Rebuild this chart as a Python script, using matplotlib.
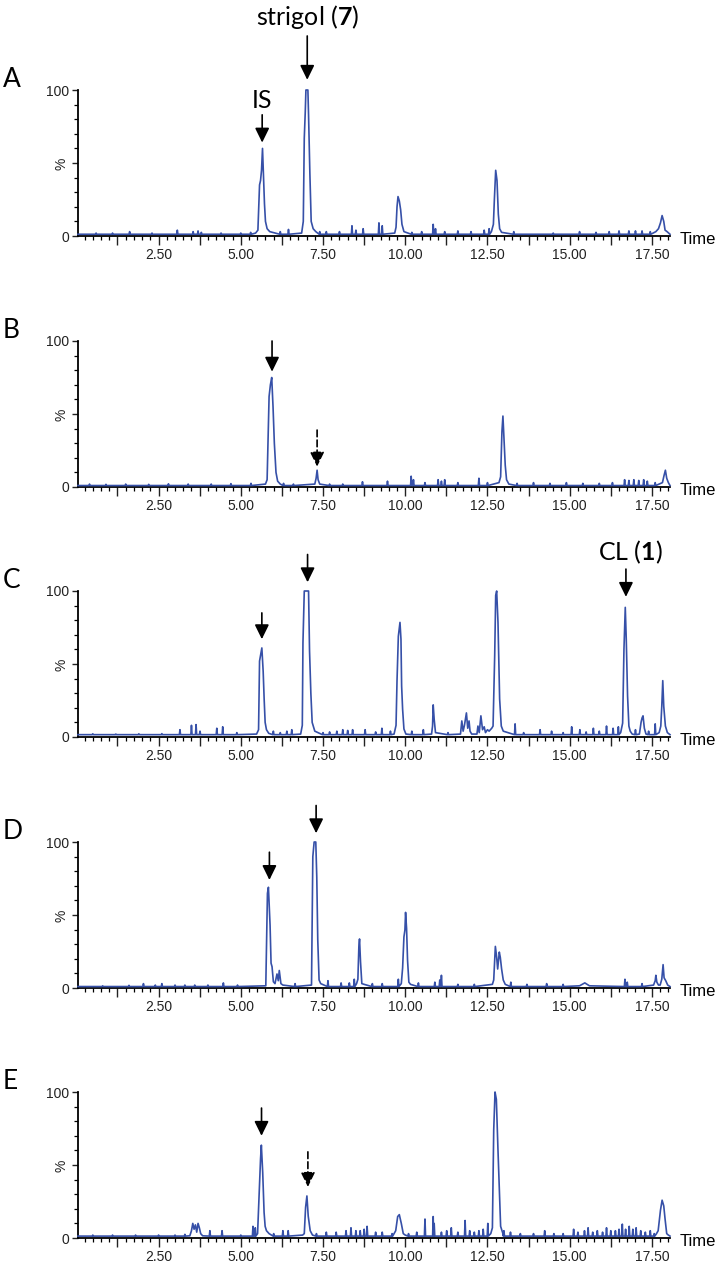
import matplotlib
matplotlib.use('Agg')
import matplotlib.pyplot as plt
import numpy as np
from matplotlib.ticker import MultipleLocator

plt.rcParams['font.family'] = ['Liberation Sans', 'DejaVu Sans']
plt.rcParams['mathtext.fontset'] = 'custom'
plt.rcParams['mathtext.rm'] = 'Lato'
plt.rcParams['mathtext.bf'] = 'Lato:bold'

BLUE = '#3650a8'
T_MIN, T_MAX = 0.05, 18.05

# ---- panel A ----
A_base = 1.2
A_spike_t = [0.6, 1.1, 1.62, 2.3, 3.07, 3.55, 3.7, 3.8, 4.4, 5.0, 5.3, 6.2, 6.45, 7.4, 7.6, 8.0, 8.38, 8.5, 8.72,
             9.2, 9.3, 10.2, 10.5, 10.85, 10.92, 11.2, 11.6, 12.0, 12.4, 12.55, 13.3, 14.5, 15.3, 15.8, 16.2, 16.5,
             16.8, 17.0, 17.2, 17.45]
A_spike_h = [2, 2, 3, 2, 4, 3, 3.5, 2.5, 2, 2, 2.5, 3, 4.5, 3, 3, 3, 7, 4, 5,
             9, 7, 2.5, 3, 8, 5, 3, 3.5, 3, 4, 5, 3, 2, 3, 2.5, 3, 3.5,
             3.5, 3.5, 3.5, 3]
A_peak_t = [[5.45, 5.52, 5.57, 5.6, 5.63, 5.66, 5.69, 5.72, 5.75, 5.8, 5.88],
            [6.85, 6.9, 6.93, 6.96, 6.98, 7.04, 7.06, 7.1, 7.14, 7.2, 7.28],
            [9.68, 9.72, 9.75, 9.78, 9.82, 9.86, 9.9, 9.96],
            [12.62, 12.68, 12.71, 12.75, 12.79, 12.83, 12.87, 12.93],
            [17.62, 17.7, 17.76, 17.81, 17.86, 17.9, 17.96]]
A_peak_y = [[2, 4, 35, 38, 45, 60, 40, 22, 10, 5, 3],
            [2, 10, 67, 85, 100, 100, 83, 43, 10, 5, 3],
            [2, 6, 20, 27, 24, 18, 8, 3],
            [3, 8, 25, 45, 38, 15, 5, 2.5],
            [3, 5, 9, 14, 10, 4, 3]]

# ---- panel B ----
B_base = 1.0
B_spike_t = [0.4, 0.9, 1.5, 2.2, 2.8, 3.4, 4.1, 4.7, 5.31, 6.3, 6.6, 7.7, 8.1, 8.7, 9.46, 10.18, 10.25, 10.6, 11.0,
             11.1, 11.2, 11.6, 12.24, 12.5, 13.4, 13.9, 14.4, 14.9, 15.4, 15.9, 16.3, 16.67, 16.8, 16.95, 17.1,
             17.25, 17.36, 17.6]
B_spike_h = [2, 1.8, 2, 1.8, 2.2, 2, 2, 2.3, 2.5, 2.5, 2, 2, 2, 3.6, 4, 7.4, 5, 3, 5,
             4, 5, 3, 6, 3, 2.5, 3, 2.5, 3, 2.5, 2.5, 3, 5, 4.5, 5, 4.5,
             5, 4, 3]
B_peak_t = [[5.75, 5.8, 5.86, 5.9, 5.94, 5.98, 6.02, 6.07, 6.12, 6.2],
            [7.25, 7.29, 7.32, 7.35, 7.4],
            [12.85, 12.9, 12.94, 12.97, 13.0, 13.04, 13.08, 13.15],
            [17.82, 17.87, 17.91, 17.95, 18.0]]
B_peak_y = [[2, 5, 62, 70, 75, 55, 30, 10, 4, 2],
            [2, 6, 11.5, 5, 2],
            [3, 7, 38, 48.6, 34, 15, 5, 2],
            [3, 8, 11.5, 6, 3]]

# ---- panel C ----
C_base = 1.6
C_spike_t = [0.5, 1.2, 1.9, 2.6, 3.15, 3.5, 3.64, 3.76, 4.27, 4.45, 4.88, 5.99, 6.2, 6.4, 6.55, 7.5, 7.7, 7.92,
             8.1, 8.25, 8.4, 8.78, 9.1, 9.29, 9.55, 10.2, 10.55, 11.3, 13.34, 13.6, 14.1, 14.45, 14.8, 15.06,
             15.31, 15.5, 15.72, 15.9, 16.12, 16.32, 16.48, 17.0, 17.4, 17.6]
C_spike_h = [2.2, 2, 2.2, 2.3, 5, 8, 8.5, 4, 6, 7, 3, 4, 3, 4, 5, 3, 3.5, 4,
             5, 4.5, 5, 5, 3.5, 6, 4, 4, 5, 3, 9, 3, 5, 4, 3, 7,
             5, 3.5, 6, 4, 7.5, 6, 7, 5, 4, 9]
C_peak_t = [[5.48, 5.54, 5.57, 5.61, 5.64, 5.68, 5.71, 5.74, 5.78, 5.85],
            [6.82, 6.87, 6.89, 6.93, 7.06, 7.09, 7.13, 7.17, 7.25],
            [9.66, 9.72, 9.75, 9.79, 9.84, 9.87, 9.89, 9.92, 9.96, 10.02],
            [10.8, 10.83, 10.85, 10.88, 10.92],
            [11.68, 11.72, 11.76, 11.8, 11.86, 11.9, 11.94, 11.97, 12.02],
            [12.18, 12.21, 12.25, 12.3, 12.35, 12.4, 12.44, 12.5],
            [12.55, 12.63, 12.67, 12.72, 12.75, 12.78, 12.82, 12.87, 12.92, 12.98],
            [16.55, 16.61, 16.65, 16.69, 16.72, 16.76, 16.8, 16.84, 16.9],
            [17.12, 17.17, 17.2, 17.23, 17.27, 17.32],
            [17.72, 17.77, 17.8, 17.83, 17.86, 17.91, 17.97]]
C_peak_y = [[2, 5, 52, 57, 61, 45, 26, 10, 5, 2.5],
            [2, 8, 64.6, 100, 100, 59, 30, 10, 4],
            [2, 8, 38.6, 69, 78.5, 67, 35, 19, 5.5, 2],
            [2, 7.5, 22, 12, 3],
            [2, 11, 4, 8, 16.5, 6, 11, 4, 2],
            [2, 7.5, 3, 14.5, 5, 7, 3, 5],
            [4, 6, 7.5, 56, 97, 100, 78.5, 26, 7.5, 4],
            [3, 9.5, 60, 88.8, 67, 28, 7.5, 4, 2],
            [2, 10, 13, 14.5, 6, 2],
            [3, 7.5, 21, 38.6, 21, 7.5, 3]]

# ---- panel D ----
D_base = 1.0
D_spike_t = [0.8, 1.6, 2.04, 2.4, 2.6, 3.0, 3.3, 3.6, 4.0, 4.47, 4.9, 6.65, 7.65, 8.05, 8.3, 8.45, 9.0, 9.3, 9.79,
             10.4, 10.9, 11.05, 11.1, 11.6, 12.1, 13.21, 13.7, 14.3, 14.8, 16.68, 16.75, 17.2]
D_spike_h = [1.5, 1.8, 3, 2, 3, 2, 2, 2, 2, 3.5, 2, 3, 5, 3.5, 3.5, 6, 3, 3, 6,
             3.5, 4, 5.5, 8.7, 2.5, 2.5, 4, 2.5, 3, 2.5, 6, 4, 3]
D_peak_t = [[5.76, 5.81, 5.84, 5.89, 5.92, 5.95, 5.99, 6.04, 6.1, 6.14, 6.17, 6.22, 6.28],
            [7.15, 7.19, 7.23, 7.28, 7.31, 7.34, 7.38, 7.43],
            [8.52, 8.56, 8.59, 8.61, 8.64, 8.68, 8.75],
            [9.88, 9.92, 9.96, 9.99, 10.01, 10.04, 10.07, 10.11, 10.16],
            [12.65, 12.69, 12.74, 12.78, 12.81, 12.86, 12.89, 12.93, 12.98, 13.04],
            [15.3, 15.46, 15.6],
            [17.55, 17.6, 17.62, 17.65, 17.7],
            [17.75, 17.8, 17.84, 17.87, 17.92, 17.98]]
D_peak_y = [[1.5, 64.8, 69, 43, 17, 14.6, 4.3, 3, 9.6, 5, 12, 3, 2],
            [2, 90, 100, 100, 76, 33, 5.5, 3],
            [3, 6, 28.5, 33.6, 18, 3, 2.5],
            [3, 13.7, 35, 39.7, 51.8, 41, 19, 4, 2.5],
            [2.5, 5.5, 28.5, 21, 13, 24.6, 21, 13, 5.5, 2.5],
            [1.5, 3.5, 1.5],
            [2, 5, 8.7, 4, 2],
            [2, 6, 16, 7, 5, 2]]

# ---- panel E ----
E_base = 1.3
E_spike_t = [0.5, 1.1, 1.8, 2.5, 3.0, 3.3, 4.06, 4.43, 5.0, 5.37, 5.44, 6.0, 6.28, 6.44, 7.3, 7.6, 7.9, 8.2, 8.35,
             8.5, 8.63, 8.75, 8.84, 9.1, 9.3, 9.6, 10.1, 10.35, 10.6, 10.85, 10.88, 11.1, 11.26, 11.4, 11.6, 11.82,
             11.96, 12.1, 12.24, 12.37, 12.51, 13.0, 13.2, 13.5, 13.9, 14.24, 14.52, 14.8, 15.12, 15.25, 15.45,
             15.56, 15.7, 15.84, 16.0, 16.12, 16.25, 16.39, 16.5, 16.6, 16.7, 16.81, 16.92, 17.02, 17.16, 17.3,
             17.45, 17.57]
E_spike_h = [2, 2, 2, 2, 2, 2.5, 5, 5, 2, 8, 7, 3, 5, 5, 3, 4, 4, 5, 7,
             5, 5, 6, 8, 4, 4, 3, 3, 4, 13, 14.7, 10, 4, 5, 7, 4, 12,
             5, 4, 5, 6, 10, 5, 4, 3, 3, 5, 3, 3, 6, 4, 5,
             7, 4, 5, 4, 7, 5, 5, 6, 9.5, 6, 8, 6, 7, 5, 4,
             5, 3]
E_peak_t = [[3.45, 3.5, 3.54, 3.58, 3.62, 3.66, 3.7, 3.74, 3.78, 3.84],
            [5.48, 5.51, 5.555, 5.6, 5.625, 5.666, 5.708, 5.74, 5.78, 5.86],
            [6.88, 6.93, 6.97, 7.01, 7.05, 7.11, 7.18],
            [9.66, 9.71, 9.77, 9.82, 9.88, 9.94, 10.0],
            [12.6, 12.65, 12.69, 12.73, 12.77, 12.82, 12.86, 12.9, 12.97],
            [17.64, 17.69, 17.76, 17.81, 17.86, 17.9, 17.95, 18.0]]
E_peak_y = [[1.5, 5, 10, 6, 9, 4, 10, 7, 3, 1.5],
            [2, 3, 28, 54, 63.6, 45, 17.5, 8, 5, 3],
            [2, 3, 21, 28.8, 15, 5, 2],
            [3, 5, 14.7, 16, 10, 3, 2],
            [3, 7, 74, 100, 95, 60, 34.6, 8, 3],
            [3, 5, 19, 25.9, 22, 13, 3, 2]]

# arrows: time, tail (%), tip (%), dashed
A_arrows = [(5.65, 83, 64, False), (7.02, 137, 107, False)]
B_arrows = [(5.95, 100, 79, False), (7.32, 39, 14, True)]
C_arrows = [(5.64, 85, 67, False), (7.03, 125, 106, False), (16.71, 115, 96, False)]
D_arrows = [(5.87, 93, 74, False), (7.29, 125, 106, False)]
E_arrows = [(5.63, 89, 70, False), (7.04, 59, 35, True)]

# labels: time, %, text
A_labels = [(5.65, 93, 'IS'), (7.02, 150, r'strigol ($\mathbf{7}$)')]
C_labels = [(16.83, 126.5, r'CL ($\mathbf{1}$)')]


def build_trace(base, spike_t, spike_h, peak_t, peak_y):
    pts = [(T_MIN, base), (T_MAX, base)]
    for t, h in zip(spike_t, spike_h):
        pts += [(t - 0.018, base), (t, h), (t + 0.018, base)]
    for pt, py in zip(peak_t, peak_y):
        pts += list(zip(pt, py))
    pts.sort(key=lambda p: p[0])
    return np.array(pts).T


panels = [
    ('A', A_base, A_spike_t, A_spike_h, A_peak_t, A_peak_y, A_arrows, A_labels),
    ('B', B_base, B_spike_t, B_spike_h, B_peak_t, B_peak_y, B_arrows, []),
    ('C', C_base, C_spike_t, C_spike_h, C_peak_t, C_peak_y, C_arrows, C_labels),
    ('D', D_base, D_spike_t, D_spike_h, D_peak_t, D_peak_y, D_arrows, []),
    ('E', E_base, E_spike_t, E_spike_h, E_peak_t, E_peak_y, E_arrows, []),
]
bottoms_px = [236, 487, 737, 988, 1238]
W, H = 715, 1265
AX_H = 146

fig = plt.figure(figsize=(W / 100, H / 100), dpi=100)

xt = np.arange(1.25, 17.6, 1.25)
xt_labels = ['%.2f' % v if abs(v / 2.5 - round(v / 2.5)) < 1e-6 else '' for v in xt]

for (name, base, st, sh, pt, py, arrows, labels), bpx in zip(panels, bottoms_px):
    ax = fig.add_axes([78 / W, 1 - bpx / H, 592 / W, AX_H / H])
    t, y = build_trace(base, st, sh, pt, py)
    ax.plot(t, y, color=BLUE, lw=1.2, clip_on=False, zorder=3)
    ax.set_xlim(T_MIN, T_MAX)
    ax.set_ylim(0, 100)
    for s in ['top', 'right']:
        ax.spines[s].set_visible(False)
    for s in ['left', 'bottom']:
        ax.spines[s].set_linewidth(1.3)

    ax.set_xticks(xt)
    ax.set_xticklabels(xt_labels)
    ax.xaxis.set_minor_locator(MultipleLocator(0.25))
    ax.set_yticks([0, 50, 100])
    ax.set_yticklabels(['0', '%', '100'])
    ax.get_yticklabels()[1].set_rotation(90)
    ax.get_yticklabels()[1].set_fontsize(9)
    ax.yaxis.set_minor_locator(MultipleLocator(10))
    ax.tick_params(axis='x', which='major', length=6.5, width=1.0, pad=2, labelsize=10, colors='#222222')
    ax.tick_params(axis='x', which='minor', length=3, width=0.9)
    ax.tick_params(axis='y', which='major', length=4.5, width=1.0, pad=2, labelsize=10, colors='#222222')
    ax.tick_params(axis='y', which='minor', length=3, width=0.9)

    ax.text(1.017, -0.025, 'Time', transform=ax.transAxes, ha='left', va='center', fontsize=12)

    top_px = bpx - AX_H
    fig.text(3 / W, 1 - (top_px - 3) / H, name, fontsize=19, family='Lato', ha='left', va='baseline')

    for at, y0, y1, dashed in arrows:
        ax.annotate('', xy=(at, y1), xytext=(at, y0), annotation_clip=False,
                    arrowprops=dict(arrowstyle='-|>,head_length=0.55,head_width=0.27', color='k', lw=1.2,
                                    mutation_scale=16, shrinkA=0, shrinkB=0,
                                    linestyle=(0, (4, 2)) if dashed else '-'))
    for lt, ly, txt in labels:
        ax.text(lt, ly, txt, ha='center', va='center', fontsize=18, family='Lato')

fig.savefig('out.png', dpi=100)
